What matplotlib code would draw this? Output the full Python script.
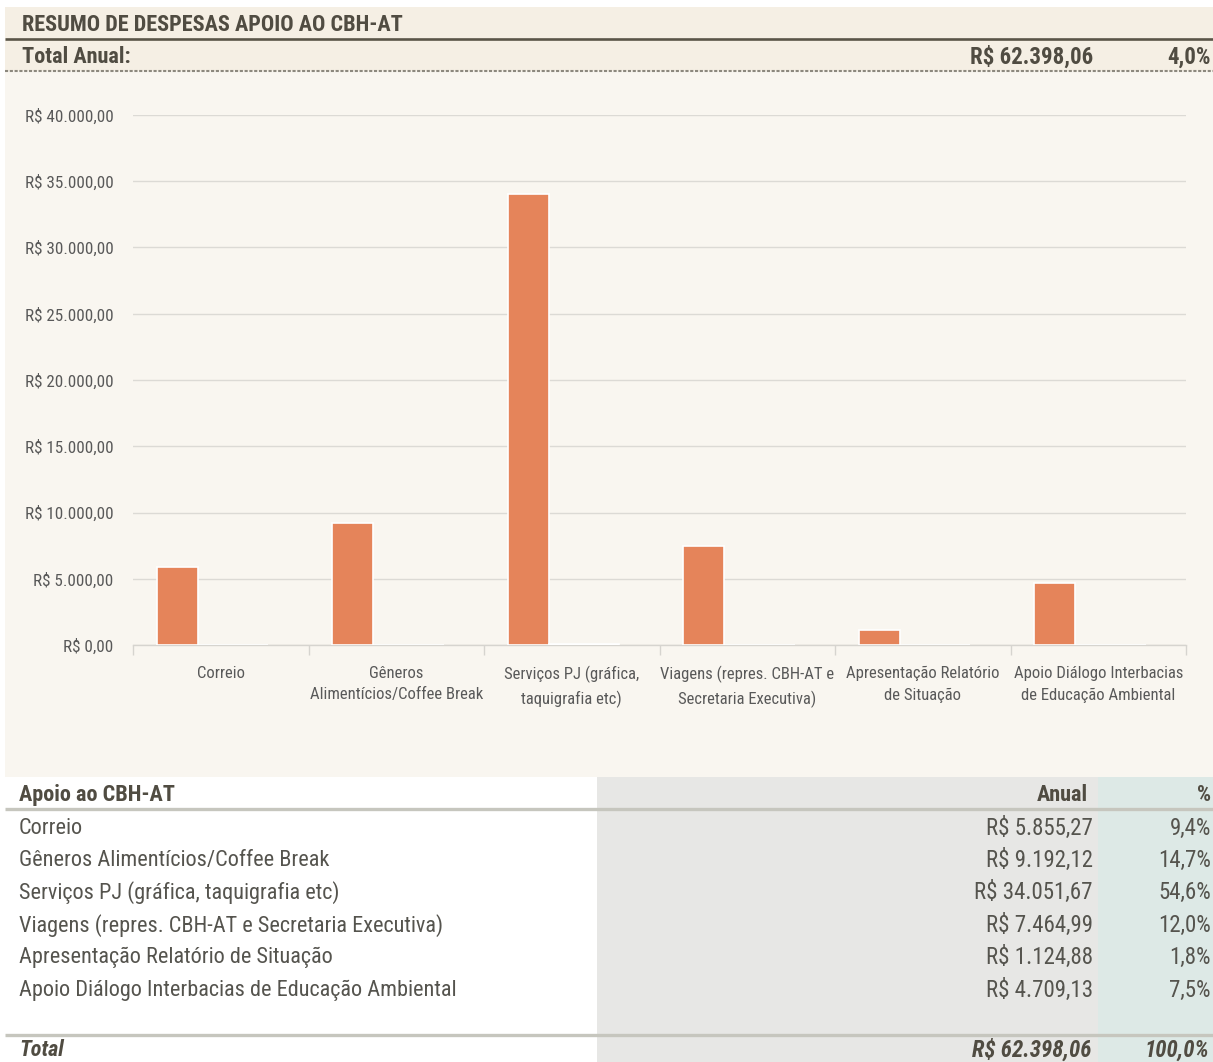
import numpy as np
import matplotlib
matplotlib.use('Agg')
import matplotlib.pyplot as plt
from matplotlib.patches import Rectangle
from matplotlib.ticker import FuncFormatter, FixedLocator

# dados do resumo
categorias = ['Correio',
              'Gêneros Alimentícios/Coffee Break',
              'Serviços PJ (gráfica, taquigrafia etc)',
              'Viagens (repres. CBH-AT e Secretaria Executiva)',
              'Apresentação Relatório de Situação',
              'Apoio Diálogo Interbacias de Educação Ambiental']
rotulos_grafico = ['Correio',
                   'Gêneros\nAlimentícios/Coffee Break',
                   'Serviços PJ (gráfica,\ntaquigrafia etc)',
                   'Viagens (repres. CBH-AT e\nSecretaria Executiva)',
                   'Apresentação Relatório\nde Situação',
                   'Apoio Diálogo Interbacias\nde Educação Ambiental']
anual = [5855.27, 9192.12, 34051.67, 7464.99, 1124.88, 4709.13]
percentual = [9.4, 14.7, 54.6, 12.0, 1.8, 7.5]
total_anual = 62398.06
total_pct = 100.0
pct_orcamento = 4.0
y_ticks = [0, 5000, 10000, 15000, 20000, 25000, 30000, 35000, 40000]

W, H = 1213, 1062
FONTE = ['Roboto Condensed', 'DejaVu Sans']
plt.rcParams['font.family'] = FONTE

COR_TEXTO = '#595959'
COR_TITULO = '#504C42'
COR_LINHA = '#55544E'
COR_BARRA = '#E5845A'
TAM = 16


def brl(v):
    s = f'{v:,.2f}'.replace(',', 'X').replace('.', ',').replace('X', '.')
    return 'R$ ' + s


def pct(v):
    return f'{v:.1f}%'.replace('.', ',')


fig = plt.figure(figsize=(W / 100, H / 100), dpi=100)
fig.patch.set_facecolor('white')

# camada de fundo em coordenadas de pixel
bg = fig.add_axes([0, 0, 1, 1])
bg.set_xlim(0, W)
bg.set_ylim(H, 0)
bg.axis('off')

bg.add_patch(Rectangle((5, 7), W - 5, 64, color='#F5EFE4', lw=0))
bg.add_patch(Rectangle((5, 71), W - 5, 706, color='#F9F6F0', lw=0))
bg.add_patch(Rectangle((597, 777), 501, H - 777, color='#E7E7E5', lw=0))
bg.add_patch(Rectangle((1098, 777), W - 1098, H - 777, color='#DDE9E6', lw=0))

bg.plot([5, W], [39, 39], color='#5A5548', lw=1.9, solid_capstyle='butt')
bg.plot([5, W], [71, 71], color='#8C887E', lw=1.5, ls=(0, (1.5, 0.8)))
bg.plot([5, W], [809, 809], color='#C6C6BE', lw=2.4, solid_capstyle='butt')
bg.plot([5, W], [1035, 1035], color='#C6C6BE', lw=2.4, solid_capstyle='butt')

# cabeçalho
bg.text(22, 25, 'RESUMO DE DESPESAS APOIO AO CBH-AT', fontsize=TAM, fontweight='bold',
        color=COR_TITULO, va='center', ha='left')
bg.text(22, 57, 'Total Anual:', fontsize=TAM, fontweight='bold', color=COR_TITULO, va='center')
bg.text(1093, 57, brl(total_anual), fontsize=TAM + 0.5, fontweight='bold', color=COR_TITULO,
        va='center', ha='right')
bg.text(1211, 57, pct(pct_orcamento), fontsize=TAM + 0.5, fontweight='bold', color=COR_TITULO,
        va='center', ha='right')

# tabela
bg.text(19, 795, 'Apoio ao CBH-AT', fontsize=TAM, fontweight='bold', color=COR_TITULO, va='center')
bg.text(1088, 795, 'Anual', fontsize=TAM, fontweight='bold', color=COR_TITULO, va='center', ha='right')
bg.text(1211, 795, '%', fontsize=TAM, fontweight='bold', color=COR_TITULO, va='center', ha='right')
for i, (nome, v, p) in enumerate(zip(categorias, anual, percentual)):
    y = 828 + i * 32.4
    bg.text(19, y, nome, fontsize=TAM, color=COR_LINHA, va='center')
    bg.text(1093, y, brl(v), fontsize=TAM + 0.5, color=COR_LINHA, va='center', ha='right')
    bg.text(1211, y, pct(p), fontsize=TAM + 0.5, color=COR_LINHA, va='center', ha='right')
bg.text(19, 1050, 'Total', fontsize=TAM, fontweight='bold', style='italic', color=COR_TITULO, va='center')
bg.text(1091, 1050, brl(total_anual), fontsize=TAM + 0.5, fontweight='bold', style='italic',
        color=COR_TITULO, va='center', ha='right')
bg.text(1209, 1050, pct(total_pct), fontsize=TAM + 0.5, fontweight='bold', style='italic',
        color=COR_TITULO, va='center', ha='right')

# gráfico de barras
ax = fig.add_axes([133 / W, 1 - 645 / H, (1186 - 133) / W, (645 - 115) / H])
ax.set_facecolor('none')
x = np.arange(len(anual))
ax.bar(x - 0.248, anual, width=0.234, color=COR_BARRA, edgecolor='white', linewidth=1.2, zorder=3)
ax.bar(x + 0.07, percentual, width=0.4, color=COR_BARRA, edgecolor='white', linewidth=1.2, zorder=3)

ax.set_xlim(-0.5, len(anual) - 0.5)
ax.set_ylim(0, 40000)
ax.set_yticks(y_ticks)
ax.yaxis.set_major_formatter(FuncFormatter(lambda v, _: brl(v)))
ax.yaxis.grid(True, color='#DCDAD5', lw=1, zorder=0)
ax.set_axisbelow(True)
for s in ['top', 'right', 'left']:
    ax.spines[s].set_visible(False)
ax.spines['bottom'].set_color('#D6D4CF')
ax.spines['bottom'].set_linewidth(1)
ax.tick_params(axis='y', length=0, pad=14, labelsize=12.3, labelcolor=COR_TEXTO)

ax.set_xticks(x)
ax.set_xticklabels(rotulos_grafico, fontsize=12, color=COR_TEXTO, linespacing=1.55)
ax.tick_params(axis='x', which='major', length=0, pad=15)
ax.xaxis.set_minor_locator(FixedLocator(np.arange(-0.5, len(anual), 1.0)))
ax.tick_params(axis='x', which='minor', length=7, color='#D6D4CF', width=1)

fig.savefig('out.png', dpi=100)
